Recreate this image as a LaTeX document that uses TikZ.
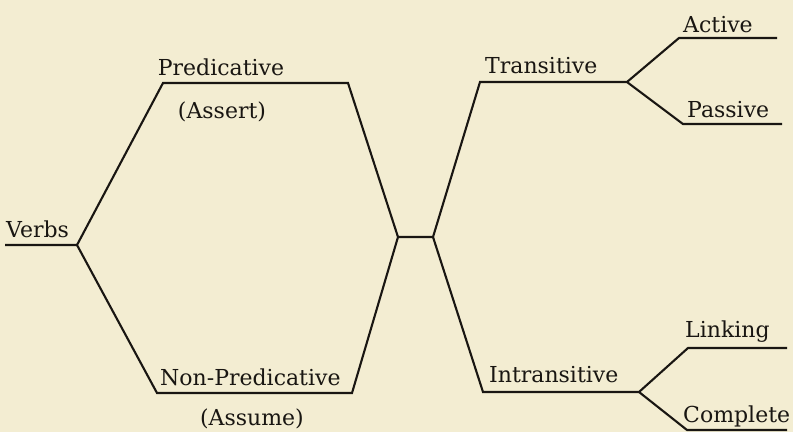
\documentclass[tikz,border=0pt]{standalone}
\usepackage{fontspec}
\setmainfont{DejaVu Serif}
\usepackage{xcolor}
\definecolor{paper}{RGB}{243,237,210}
\definecolor{ink}{RGB}{25,22,18}
\begin{document}
\begin{tikzpicture}[x=1pt,y=-1pt,
  lbl/.style={inner sep=0pt,text=ink,font=\fontsize{22}{26}\selectfont},
  branch/.style={draw=ink,line width=2.1pt,line join=miter}]
\fill[paper] (0,0) rectangle (793,432);
\useasboundingbox (0,0) rectangle (793,432);
% junction coordinates
\coordinate (V0) at (5,245);   \coordinate (V1) at (77,245);
\coordinate (P0) at (163,83);  \coordinate (P1) at (348,83);
\coordinate (N0) at (157,393); \coordinate (N1) at (352,393);
\coordinate (M0) at (398,237); \coordinate (M1) at (433,237);
\coordinate (T0) at (480,82);  \coordinate (T1) at (627,82);
\coordinate (A0) at (679,38);  \coordinate (A1) at (777,38);
\coordinate (S0) at (683,124); \coordinate (S1) at (782,124);
\coordinate (I0) at (483,392); \coordinate (I1) at (639,392);
\coordinate (L0) at (688,348); \coordinate (L1) at (787,348);
\coordinate (C0) at (687,430); \coordinate (C1) at (787,430);
% labels
\node[lbl,anchor=base west] (verbs) at (6,237) {Verbs};
\node[lbl,anchor=base] (pred) at (221,75) {Predicative};
\node[lbl,anchor=center] (assert) at (222,112) {(Assert)};
\node[lbl,anchor=base west] (nonpred) at (160,385) {Non-Predicative};
\node[lbl,anchor=center] (assume) at (252,419) {(Assume)};
\node[lbl,anchor=base west] (trans) at (485,73) {Transitive};
\node[lbl,anchor=base west] (active) at (683,32) {Active};
\node[lbl,anchor=base west] (passive) at (687,117) {Passive};
\node[lbl,anchor=base west] (intrans) at (489,382) {Intransitive};
\node[lbl,anchor=base west] (linking) at (685,337) {Linking};
\node[lbl,anchor=base west] (complete) at (683,422) {Complete};
% lines
\draw[branch] (V0) -- (V1) -- (P0) -- (P1) -- (M0) -- (N1) -- (N0) -- (V1);
\draw[branch] (M0) -- (M1) -- (T0) -- (T1) -- (A0) -- (A1);
\draw[branch] (T1) -- (S0) -- (S1);
\draw[branch] (M1) -- (I0) -- (I1) -- (L0) -- (L1);
\draw[branch] (I1) -- (C0) -- (C1);
\end{tikzpicture}
\end{document}
